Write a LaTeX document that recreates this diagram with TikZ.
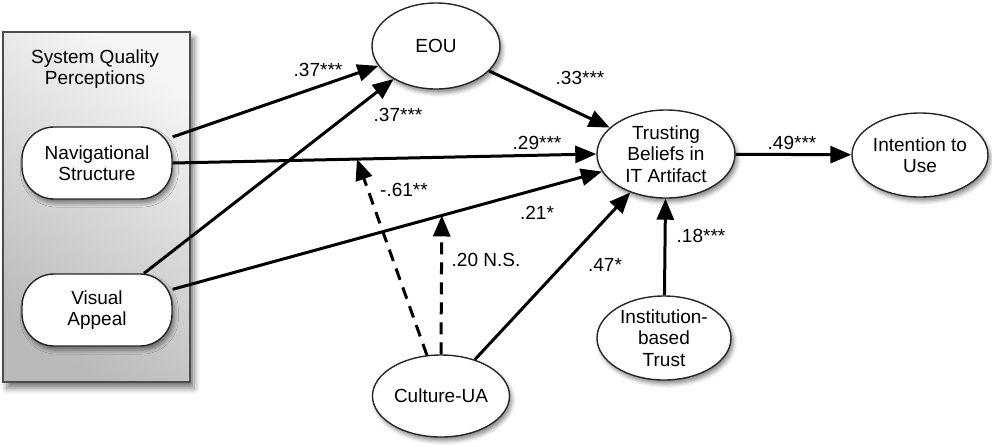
\documentclass[tikz,border=0pt]{standalone}
\usepackage{fontspec}
\setmainfont{Liberation Sans}
\usetikzlibrary{arrows.meta,shapes.geometric,shadows.blur,calc}
\begin{document}
\begin{tikzpicture}[x=0.5pt,y=-0.5pt,
  font=\fontsize{9.5pt}{10.7pt}\selectfont,
  shad/.style={blur shadow={shadow xshift=1.2pt,shadow yshift=-2pt,shadow blur radius=2pt,shadow opacity=45}},
  construct/.style={ellipse,draw=black!85,line width=0.7pt,fill=white,align=center,inner sep=0pt,shad},
  rbox/.style={rectangle,rounded corners=16pt,draw=black!85,line width=0.7pt,fill=white,align=center,
    minimum width=75pt,minimum height=36pt,inner sep=0pt,shad},
  link/.style={line width=1.5pt,-{Triangle[length=10.5pt,width=8.5pt]}},
  modlink/.style={link,dash pattern=on 6pt off 4pt},
  lab/.style={inner sep=0pt}
]
\useasboundingbox (0,0) rectangle (992,446);
% group box
\node[draw=black!70,line width=0.8pt,minimum width=93.5pt,minimum height=175pt,inner sep=0pt,
  top color=gray!8,bottom color=gray!55,shading angle=-35,
  blur shadow={shadow xshift=2pt,shadow yshift=-3pt,shadow blur radius=3pt,shadow opacity=55}] (sq) at (96.5,207) {};
\node[lab,align=center] (sqt) at (95,69) {System Quality\\Perceptions};
% constructs
\node[rbox] (nav) at (97,163) {Navigational\\Structure};
\node[rbox] (vis) at (97,310) {Visual\\Appeal};
\node[construct,minimum width=64pt,minimum height=43pt] (eou) at (436,46) {EOU};
\node[construct,minimum width=69pt,minimum height=44pt] (trust) at (666,154) {Trusting\\Beliefs in\\IT Artifact};
\node[construct,minimum width=68pt,minimum height=42pt] (int) at (920,155) {Intention to\\Use};
\node[construct,minimum width=67pt,minimum height=42pt] (inst) at (664,338) {Institution-\\based\\Trust};
\node[construct,minimum width=68.5pt,minimum height=41pt] (cult) at (441,396) {Culture-UA};
% paths
\draw[link] (nav) -- (eou);
\draw[link] (vis) -- (eou);
\draw[link] (nav.east) -- (trust.west);
\draw[link] (vis) -- (trust);
\draw[link] (eou) -- (trust);
\draw[link] (cult) -- (trust);
\draw[link] (inst) -- (trust);
\draw[link] (trust) -- (int);
\coordinate (m1) at ($(nav.east)!0.435!(trust.west)$);
\coordinate (m2) at ($(vis.center)!0.606!(trust.center)$);
\draw[modlink] (cult.109) -- (m1);
\draw[modlink] (cult.north) -- (m2);
% labels
\node[lab] (l1) at (318,70) {.37***};
\node[lab] (l2) at (398,115) {.37***};
\node[lab] (l3) at (580,78) {.33***};
\node[lab] (l4) at (537,143) {.29***};
\node[lab] (l5) at (404,190) {-.61**};
\node[lab] (l6) at (537,213) {.21*};
\node[lab] (l7) at (486,260) {.20 N.S.};
\node[lab] (l8) at (605,265) {.47*};
\node[lab] (l9) at (701,236) {.18***};
\node[lab] (l10) at (792,143) {.49***};
\end{tikzpicture}
\end{document}
